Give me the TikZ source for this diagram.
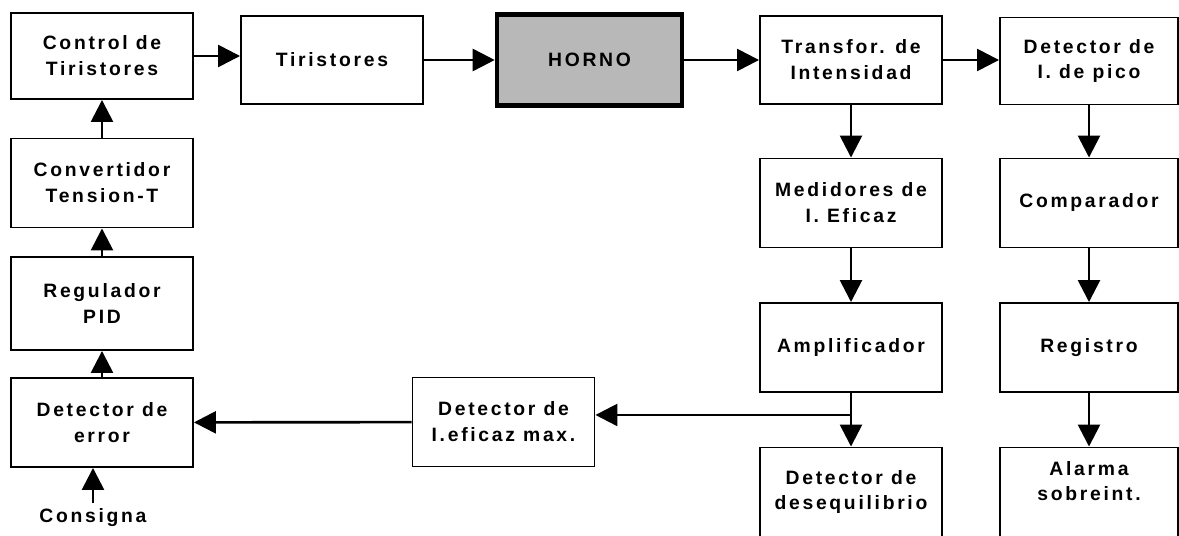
\documentclass[tikz,border=0pt]{standalone}
\usepackage{fontspec}
\newfontfamily\blockfont[LetterSpace=14]{Liberation Sans}
\usetikzlibrary{arrows.meta}

\begin{document}
\begin{tikzpicture}[>={Triangle[length=0.44cm,width=0.44cm]},
    blk/.style={draw, line width=1.1pt, minimum width=3.64cm, minimum height=1.78cm,
        align=center, font=\blockfont\bfseries\fontsize{11}{14.7}\selectfont},
    horno/.style={blk, line width=2.6pt, fill=black!28, minimum width=3.7cm, minimum height=1.82cm},
    flow/.style={->, line width=1.5pt}]

                % Page
                \clip (0,0) rectangle (23.58,10.7);
                \fill[white] (0,0) rectangle (23.58,10.7);

                % Control chain
                \node[blk, minimum height=1.72cm] (ctrl) at (2.04,9.58) {Control de\\Tiristores};
                \node[blk] (conv) at (2.04,7.04) {Convertidor\\Tension-T};
                \node[blk, minimum height=1.86cm] (pid) at (2.04,4.63) {Regulador\\PID};
                \node[blk] (error) at (2.04,2.25) {Detector de\\error};
                \node[font=\blockfont\bfseries\fontsize{11}{14.7}\selectfont] (consigna) at (1.86,0.34) {Consigna};

                % Power path
                \node[blk, minimum height=1.76cm] (tir) at (6.64,9.5) {Tiristores};
                \node[horno] (horno) at (11.79,9.5) {HORNO};
                \node[blk, minimum height=1.76cm] (trafo) at (17.02,9.5) {Transfor. de\\Intensidad};
                \node[blk, minimum width=3.56cm, minimum height=1.74cm] (pico) at (21.78,9.48) {Detector de\\I. de pico};

                % Measuring
                \node[blk] (medi) at (17.02,6.64) {Medidores de\\I. Eficaz};
                \node[blk] (amp) at (17.02,3.75) {Amplificador};
                \node[blk] (deseq) at (17.02,0.86) {Detector de\\desequilibrio};
                \node[blk] (ieff) at (10.07,2.26) {Detector de\\I.eficaz max.};

                % Protection
                \node[blk, minimum width=3.56cm] (comp) at (21.78,6.64) {Comparador};
                \node[blk, minimum width=3.56cm] (reg) at (21.78,3.75) {Registro};
                \node[blk, minimum width=3.56cm] (alarma) at (21.78,0.86) {Alarma\\sobreint.\\[-2.2pt]\mbox{}};

                % Arrows
                \draw[flow] (ctrl.east) -- (ctrl.east -| tir.west);
                \draw[flow] (tir) -- (horno);
                \draw[flow] (horno) -- (trafo);
                \draw[flow] (trafo) -- (trafo -| pico.west);
                \draw[flow] (conv) -- (ctrl);
                \draw[flow] (pid) -- (conv);
                \draw[flow] (error) -- (pid);
                \draw[flow] (consigna.north) -- (consigna.north |- error.south);
                \draw[flow] (trafo) -- (medi);
                \draw[flow] (medi) -- (amp);
                \draw[flow] (amp) -- (deseq);
                \draw[flow] (pico) -- (comp);
                \draw[flow] (comp) -- (reg);
                \draw[flow] (reg) -- (alarma);

                % Branch to the max detector
                \path (amp.south) ++(0,-0.44) coordinate (tap);
                \draw[flow] (tap) -- (tap -| ieff.east);
                \draw[flow] (ieff) -- (error);

\end{tikzpicture}
\end{document}
